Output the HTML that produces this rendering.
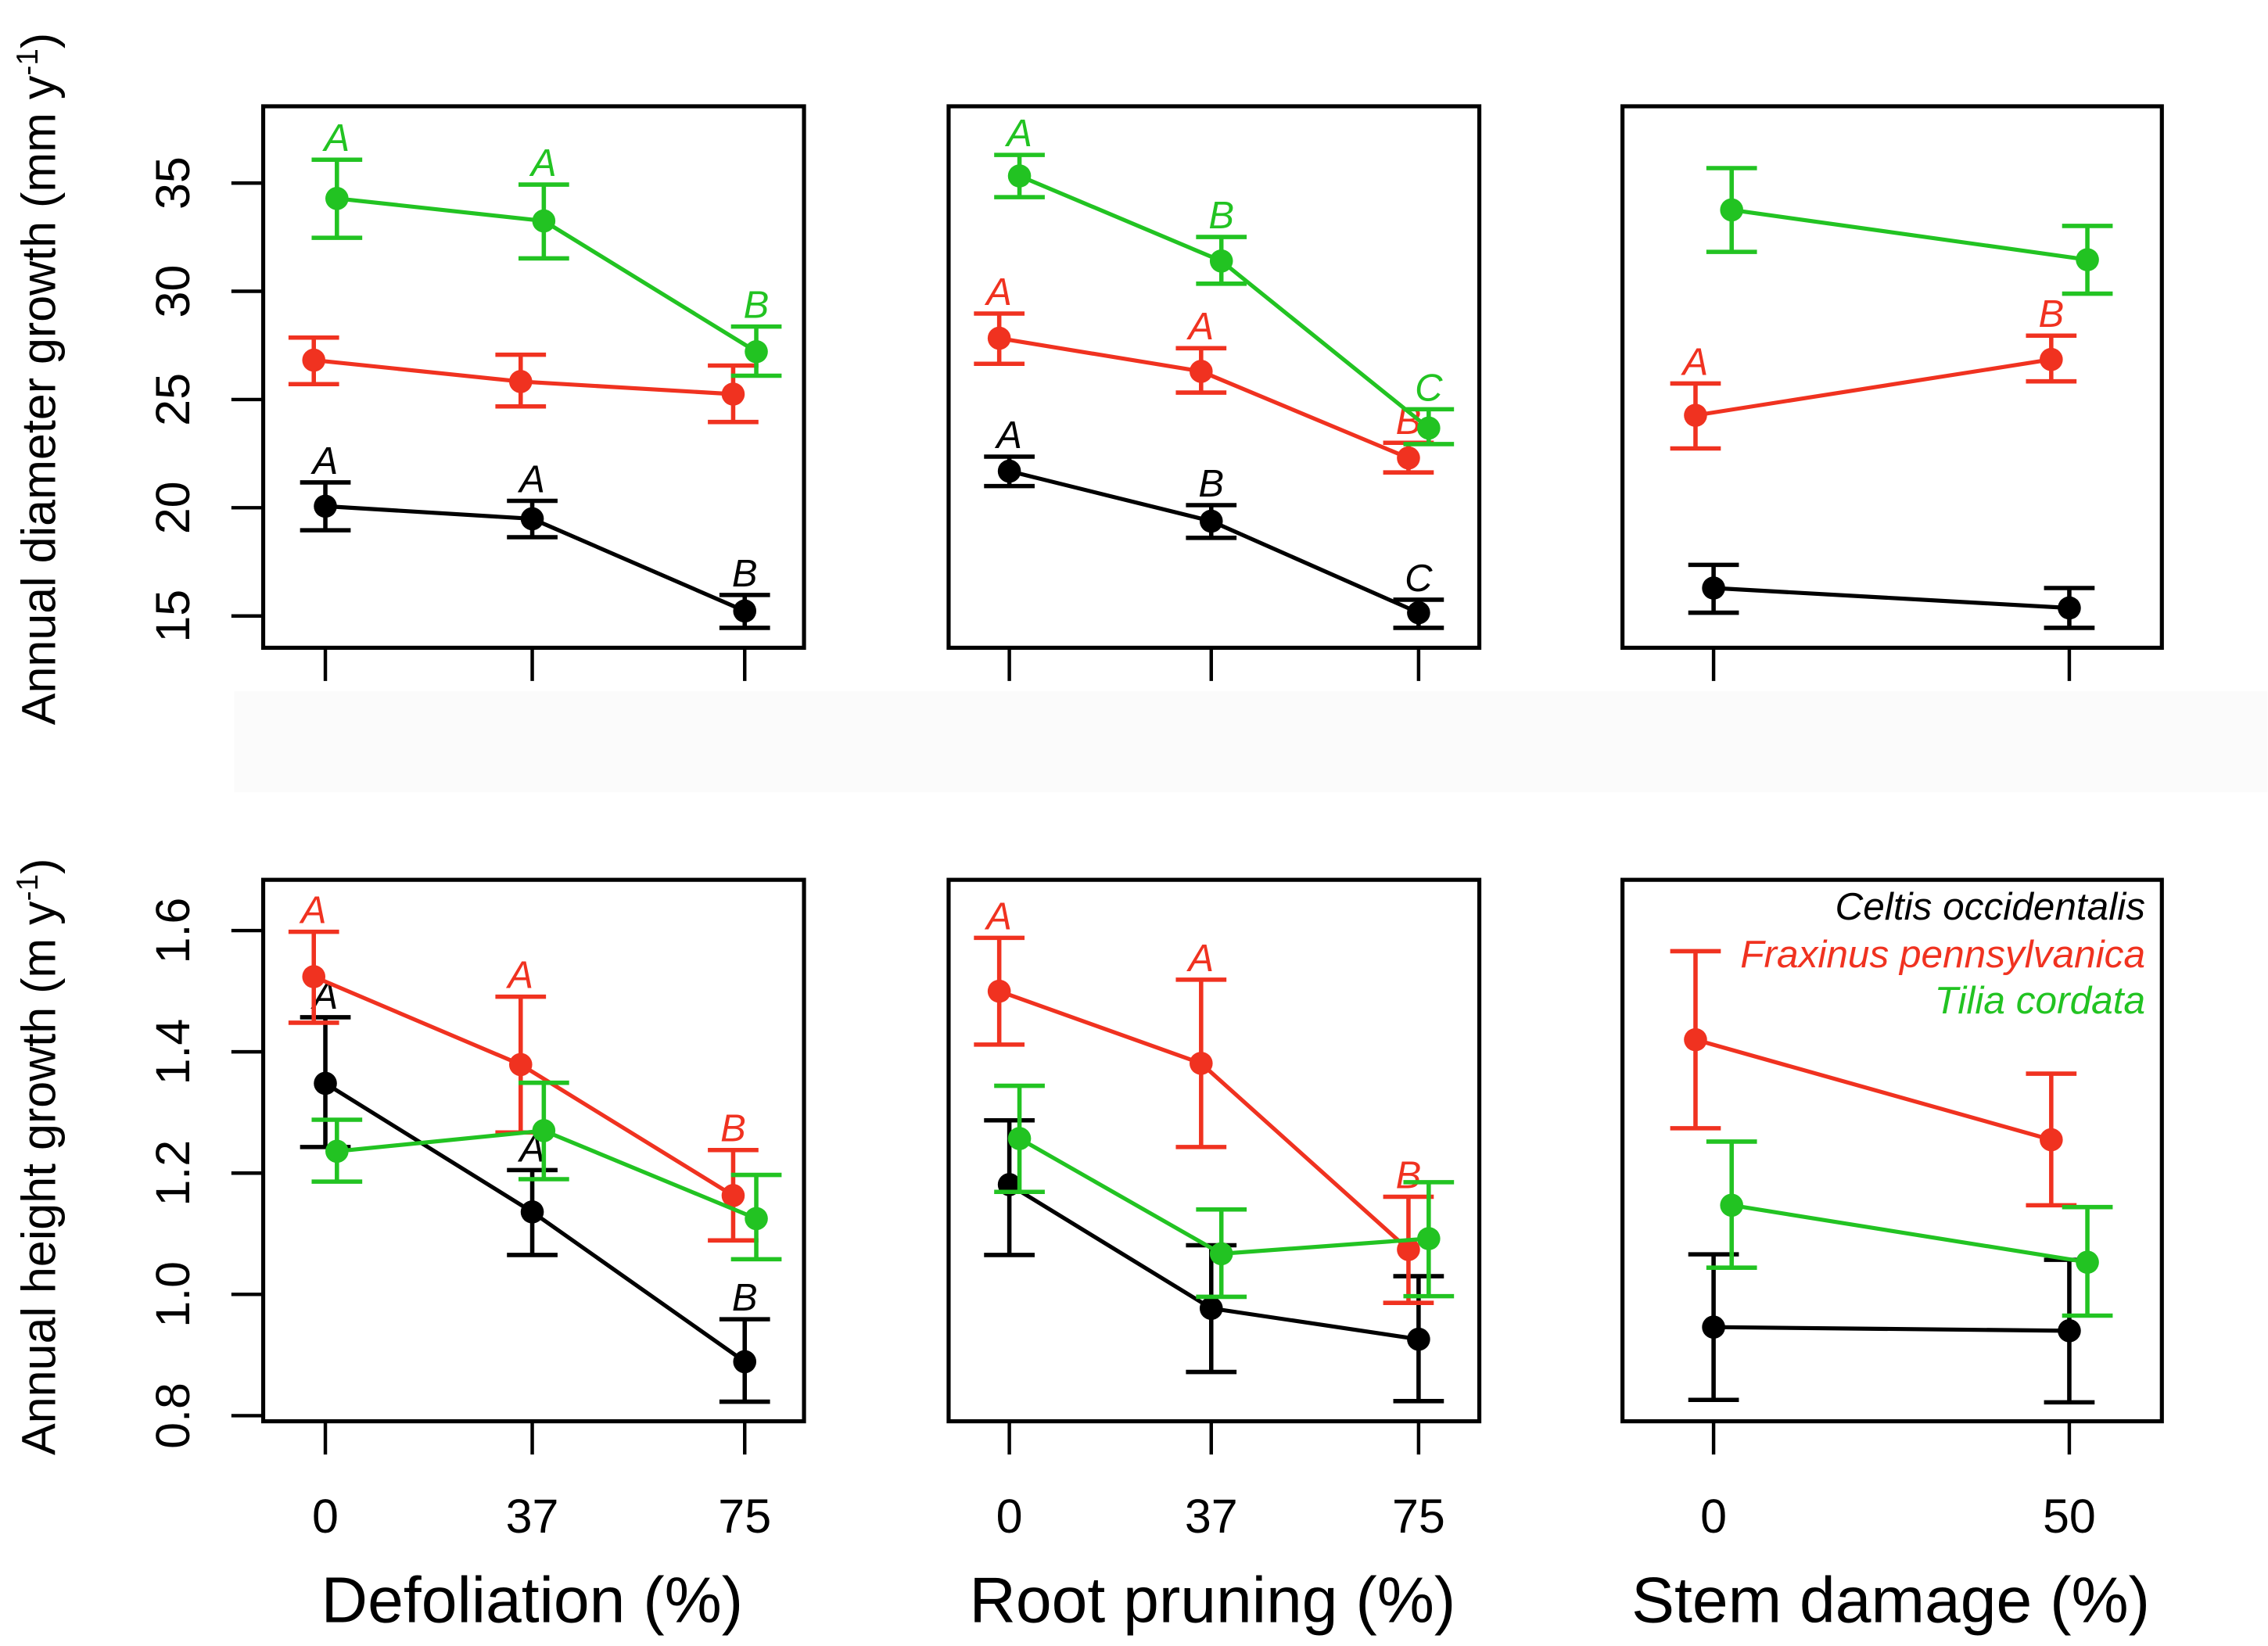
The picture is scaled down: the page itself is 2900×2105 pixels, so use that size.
<!DOCTYPE html>
<html><head><meta charset="utf-8">
<style>
html,body{margin:0;padding:0;background:#fff;}
svg{display:block;}
</style></head>
<body>
<svg id="chart" xmlns="http://www.w3.org/2000/svg" width="2900" height="2105" viewBox="0 0 1568.4 1138.4" font-family="'Liberation Sans', sans-serif">
<rect x="0" y="0" width="1568.4" height="1138.4" fill="#fff"/>
<rect x="162" y="478" width="1406" height="70" fill="#fbfbfb"/>
<g id="layer"></g>
</svg>
<script>
// ---- categories ----
const defolLevels = [0, 37, 75];
const rootLevels = [0, 37, 75];
const stemLevels = [0, 50];
const xTickLabelsDefol = ["0", "37", "75"];
const xTickLabelsRoot = ["0", "37", "75"];
const xTickLabelsStem = ["0", "50"];
const diamTicks = [15, 20, 25, 30, 35];
const diamTickLabels = ["15", "20", "25", "30", "35"];
const heightTicks = [0.8, 1.0, 1.2, 1.4, 1.6];
const heightTickLabels = ["0.8", "1.0", "1.2", "1.4", "1.6"];
const speciesNames = ["Celtis occidentalis", "Fraxinus pennsylvanica", "Tilia cordata"];

// ---- diameter, defoliation ----
const dDefCeltis = [20.07, 19.49, 15.23];
const dDefCeltisLo = [18.96, 18.64, 14.45];
const dDefCeltisHi = [21.17, 20.32, 15.97];
const dDefCeltisLet = ["A", "A", "B"];
const dDefFrax = [26.82, 25.83, 25.25];
const dDefFraxLo = [25.71, 24.68, 23.96];
const dDefFraxHi = [27.86, 27.07, 26.57];
const dDefFraxLet = ["", "", ""];
const dDefTilia = [34.29, 33.25, 27.21];
const dDefTiliaLo = [32.47, 31.52, 26.1];
const dDefTiliaHi = [36.08, 34.93, 28.37];
const dDefTiliaLet = ["A", "A", "B"];
// ---- diameter, root pruning ----
const dRootCeltis = [21.69, 19.38, 15.15];
const dRootCeltisLo = [21.0, 18.61, 14.45];
const dRootCeltisHi = [22.36, 20.12, 15.75];
const dRootCeltisLet = ["A", "B", "C"];
const dRootFrax = [27.83, 26.30, 22.30];
const dRootFraxLo = [26.65, 25.32, 21.63];
const dRootFraxHi = [28.97, 27.37, 23.0];
const dRootFraxLet = ["A", "A", "B"];
const dRootTilia = [35.33, 31.40, 23.68];
const dRootTiliaLo = [34.35, 30.35, 22.94];
const dRootTiliaHi = [36.30, 32.51, 24.55];
const dRootTiliaLet = ["A", "B", "C"];
// ---- diameter, stem damage ----
const dStemCeltis = [16.29, 15.37];
const dStemCeltisLo = [15.15, 14.45];
const dStemCeltisHi = [17.36, 16.29];
const dStemCeltisLet = ["", ""];
const dStemFrax = [24.27, 26.85];
const dStemFraxLo = [22.74, 25.84];
const dStemFraxHi = [25.74, 27.95];
const dStemFraxLet = ["A", "B"];
const dStemTilia = [33.76, 31.46];
const dStemTiliaLo = [31.82, 29.89];
const dStemTiliaHi = [35.69, 33.02];
const dStemTiliaLet = ["", ""];
// ---- height, defoliation ----
const hDefCeltis = [1.348, 1.136, 0.889];
const hDefCeltisLo = [1.243, 1.065, 0.823];
const hDefCeltisHi = [1.457, 1.205, 0.959];
const hDefCeltisLet = ["A", "A", "B"];
const hDefFrax = [1.524, 1.379, 1.163];
const hDefFraxLo = [1.448, 1.267, 1.089];
const hDefFraxHi = [1.598, 1.491, 1.238];
const hDefFraxLet = ["A", "A", "B"];
const hDefTilia = [1.236, 1.270, 1.125];
const hDefTiliaLo = [1.186, 1.190, 1.058];
const hDefTiliaHi = [1.288, 1.349, 1.197];
const hDefTiliaLet = ["", "", ""];
// ---- height, root pruning ----
const hRootCeltis = [1.181, 0.977, 0.926];
const hRootCeltisLo = [1.065, 0.872, 0.824];
const hRootCeltisHi = [1.287, 1.081, 1.030];
const hRootCeltisLet = ["", "", ""];
const hRootFrax = [1.500, 1.381, 1.074];
const hRootFraxLo = [1.412, 1.243, 0.986];
const hRootFraxHi = [1.588, 1.519, 1.161];
const hRootFraxLet = ["A", "A", "B"];
const hRootTilia = [1.257, 1.067, 1.092];
const hRootTiliaLo = [1.169, 0.996, 0.997];
const hRootTiliaHi = [1.344, 1.140, 1.185];
const hRootTiliaLet = ["", "", ""];
// ---- height, stem damage ----
const hStemCeltis = [0.946, 0.940];
const hStemCeltisLo = [0.826, 0.822];
const hStemCeltisHi = [1.066, 1.057];
const hStemCeltisLet = ["", ""];
const hStemFrax = [1.420, 1.255];
const hStemFraxLo = [1.274, 1.147];
const hStemFraxHi = [1.566, 1.364];
const hStemFraxLet = ["", ""];
const hStemTilia = [1.147, 1.053];
const hStemTiliaLo = [1.044, 0.965];
const hStemTiliaHi = [1.252, 1.144];
const hStemTiliaLet = ["", ""];

const NS = "http://www.w3.org/2000/svg";
const layer = document.getElementById("layer");
const COLORS = ["#000000", "#f03220", "#22c322"];
function mk(tag, attrs, parent) {
  const e = document.createElementNS(NS, tag);
  for (const k in attrs) e.setAttribute(k, attrs[k]);
  (parent || layer).appendChild(e);
  return e;
}
function linScale(d0, d1, r0, r1) { return v => r0 + (v - d0) * (r1 - r0) / (d1 - d0); }

const yDiam = linScale(15, 35, 426, 126.6);
const yHeight = linScale(0.8, 1.6, 979.1, 643.6);

const cols = [
  { left: 182, right: 556, x: linScale(0, 75, 225, 515), jit: 8, levels: defolLevels, labels: xTickLabelsDefol, title: "Defoliation (%)", key: "defoliation" },
  { left: 656, right: 1023, x: linScale(0, 75, 698, 981), jit: 7, levels: rootLevels, labels: xTickLabelsRoot, title: "Root pruning (%)", key: "root-pruning" },
  { left: 1122, right: 1495, x: linScale(0, 50, 1185, 1431), jit: 12.5, levels: stemLevels, labels: xTickLabelsStem, title: "Stem damage (%)", key: "stem-damage" }
];
const rows = [
  { top: 73.5, bottom: 448, y: yDiam, ticks: diamTicks, tickLabels: diamTickLabels, key: "diameter",
    series: [
      [[dDefCeltis, dDefCeltisLo, dDefCeltisHi, dDefCeltisLet], [dDefFrax, dDefFraxLo, dDefFraxHi, dDefFraxLet], [dDefTilia, dDefTiliaLo, dDefTiliaHi, dDefTiliaLet]],
      [[dRootCeltis, dRootCeltisLo, dRootCeltisHi, dRootCeltisLet], [dRootFrax, dRootFraxLo, dRootFraxHi, dRootFraxLet], [dRootTilia, dRootTiliaLo, dRootTiliaHi, dRootTiliaLet]],
      [[dStemCeltis, dStemCeltisLo, dStemCeltisHi, dStemCeltisLet], [dStemFrax, dStemFraxLo, dStemFraxHi, dStemFraxLet], [dStemTilia, dStemTiliaLo, dStemTiliaHi, dStemTiliaLet]]
    ] },
  { top: 608.5, bottom: 983, y: yHeight, ticks: heightTicks, tickLabels: heightTickLabels, key: "height",
    series: [
      [[hDefCeltis, hDefCeltisLo, hDefCeltisHi, hDefCeltisLet], [hDefFrax, hDefFraxLo, hDefFraxHi, hDefFraxLet], [hDefTilia, hDefTiliaLo, hDefTiliaHi, hDefTiliaLet]],
      [[hRootCeltis, hRootCeltisLo, hRootCeltisHi, hRootCeltisLet], [hRootFrax, hRootFraxLo, hRootFraxHi, hRootFraxLet], [hRootTilia, hRootTiliaLo, hRootTiliaHi, hRootTiliaLet]],
      [[hStemCeltis, hStemCeltisLo, hStemCeltisHi, hStemCeltisLet], [hStemFrax, hStemFraxLo, hStemFraxHi, hStemFraxLet], [hStemTilia, hStemTiliaLo, hStemTiliaHi, hStemTiliaLet]]
    ] }
];
const spKeys = ["celtis", "fraxinus", "tilia"];

rows.forEach((row, ri) => {
  cols.forEach((col, ci) => {
    const g = mk("g", {});
    
    
    const fr = mk("rect", { x: col.left, y: row.top, width: col.right - col.left, height: row.bottom - row.top, fill: "none", stroke: "#000", "stroke-width": 2.8 }, g);
    
    
    col.levels.forEach((lv, i) => {
      const tx = col.x(lv);
      const t = mk("line", { x1: tx, x2: tx, y1: row.bottom, y2: row.bottom + 23, stroke: "#000", "stroke-width": 2.4 }, g);
      
      
      if (ri === 1) {
        const tl = mk("text", { x: tx, y: 1060, "font-size": 33, "text-anchor": "middle", fill: "#000" }, g);
        tl.textContent = col.labels[i];
        
        
      }
    });
    if (ci === 0) {
      row.ticks.forEach((tv, i) => {
        const ty = row.y(tv);
        const t = mk("line", { x1: 160, x2: col.left, y1: ty, y2: ty, stroke: "#000", "stroke-width": 2.4 }, g);
        
        
        const tl = mk("text", { x: 0, y: 0, "font-size": 33, "text-anchor": "middle", fill: "#000", transform: "translate(131," + ty + ") rotate(-90)" }, g);
        tl.textContent = row.tickLabels[i];
        
        
      });
    }
    const offsets = [0, -col.jit, col.jit];
    row.series[ci].forEach((s, si) => {
      const [mean, lo, hi, lets] = s;
      const color = COLORS[si];
      const sg = mk("g", {}, g);
      
      
      const pts = mean.map((v, i) => (col.x(col.levels[i]) + offsets[si]) + "," + row.y(v)).join(" ");
      const pl = mk("polyline", { points: pts, fill: "none", stroke: color, "stroke-width": 2.8 }, sg);
      
      
      mean.forEach((v, i) => {
        const px = col.x(col.levels[i]) + offsets[si];
        const yl = row.y(lo[i]), yh = row.y(hi[i]);
        const eb = mk("path", { d: "M" + px + "," + yl + "V" + yh + "M" + (px - 17.5) + "," + yh + "H" + (px + 17.5) + "M" + (px - 17.5) + "," + yl + "H" + (px + 17.5), fill: "none", stroke: color, "stroke-width": 3.0 }, sg);
        
        
        const c = mk("circle", { cx: px, cy: row.y(v), r: 8, fill: color }, sg);
        
        
        if (lets[i]) {
          const lt = mk("text", { x: px, y: yh - 6, "font-size": 26.5, "font-style": "italic", "text-anchor": "middle", fill: color }, sg);
          lt.textContent = lets[i];
          
          
        }
      });
    });
    if (ri === 1) {
      const xt = mk("text", { x: (col.left + col.right) / 2 - 1, y: 1122, "font-size": 44.5, "text-anchor": "middle", fill: "#000" }, g);
      xt.textContent = col.title;
      
      
    }
  });
});

function yTitle(main, unit, cy, name) {
  const t = mk("text", { x: 0, y: 0, "font-size": 33, "text-anchor": "middle", fill: "#000", transform: "translate(38," + cy + ") rotate(-90)" });
  
  
  const a = mk("tspan", {}, t); a.textContent = main + " (" + unit + " y";
  const b = mk("tspan", { dy: -12, "font-size": 21 }, t); b.textContent = "-1";
  const c = mk("tspan", { dy: 12 }, t); c.textContent = ")";
}
yTitle("Annual diameter growth", "mm", 262, "y-axis-title-diameter");
yTitle("Annual height growth", "m", 800, "y-axis-title-height");

const lg = mk("g", {});


const legY = [636, 669, 701];
speciesNames.forEach((nm, i) => {
  const t = mk("text", { x: 1483.5, y: legY[i], "font-size": 26.8, "font-style": "italic", "text-anchor": "end", fill: COLORS[i] }, lg);
  t.textContent = nm;
  
  
});
</script>
</body></html>
